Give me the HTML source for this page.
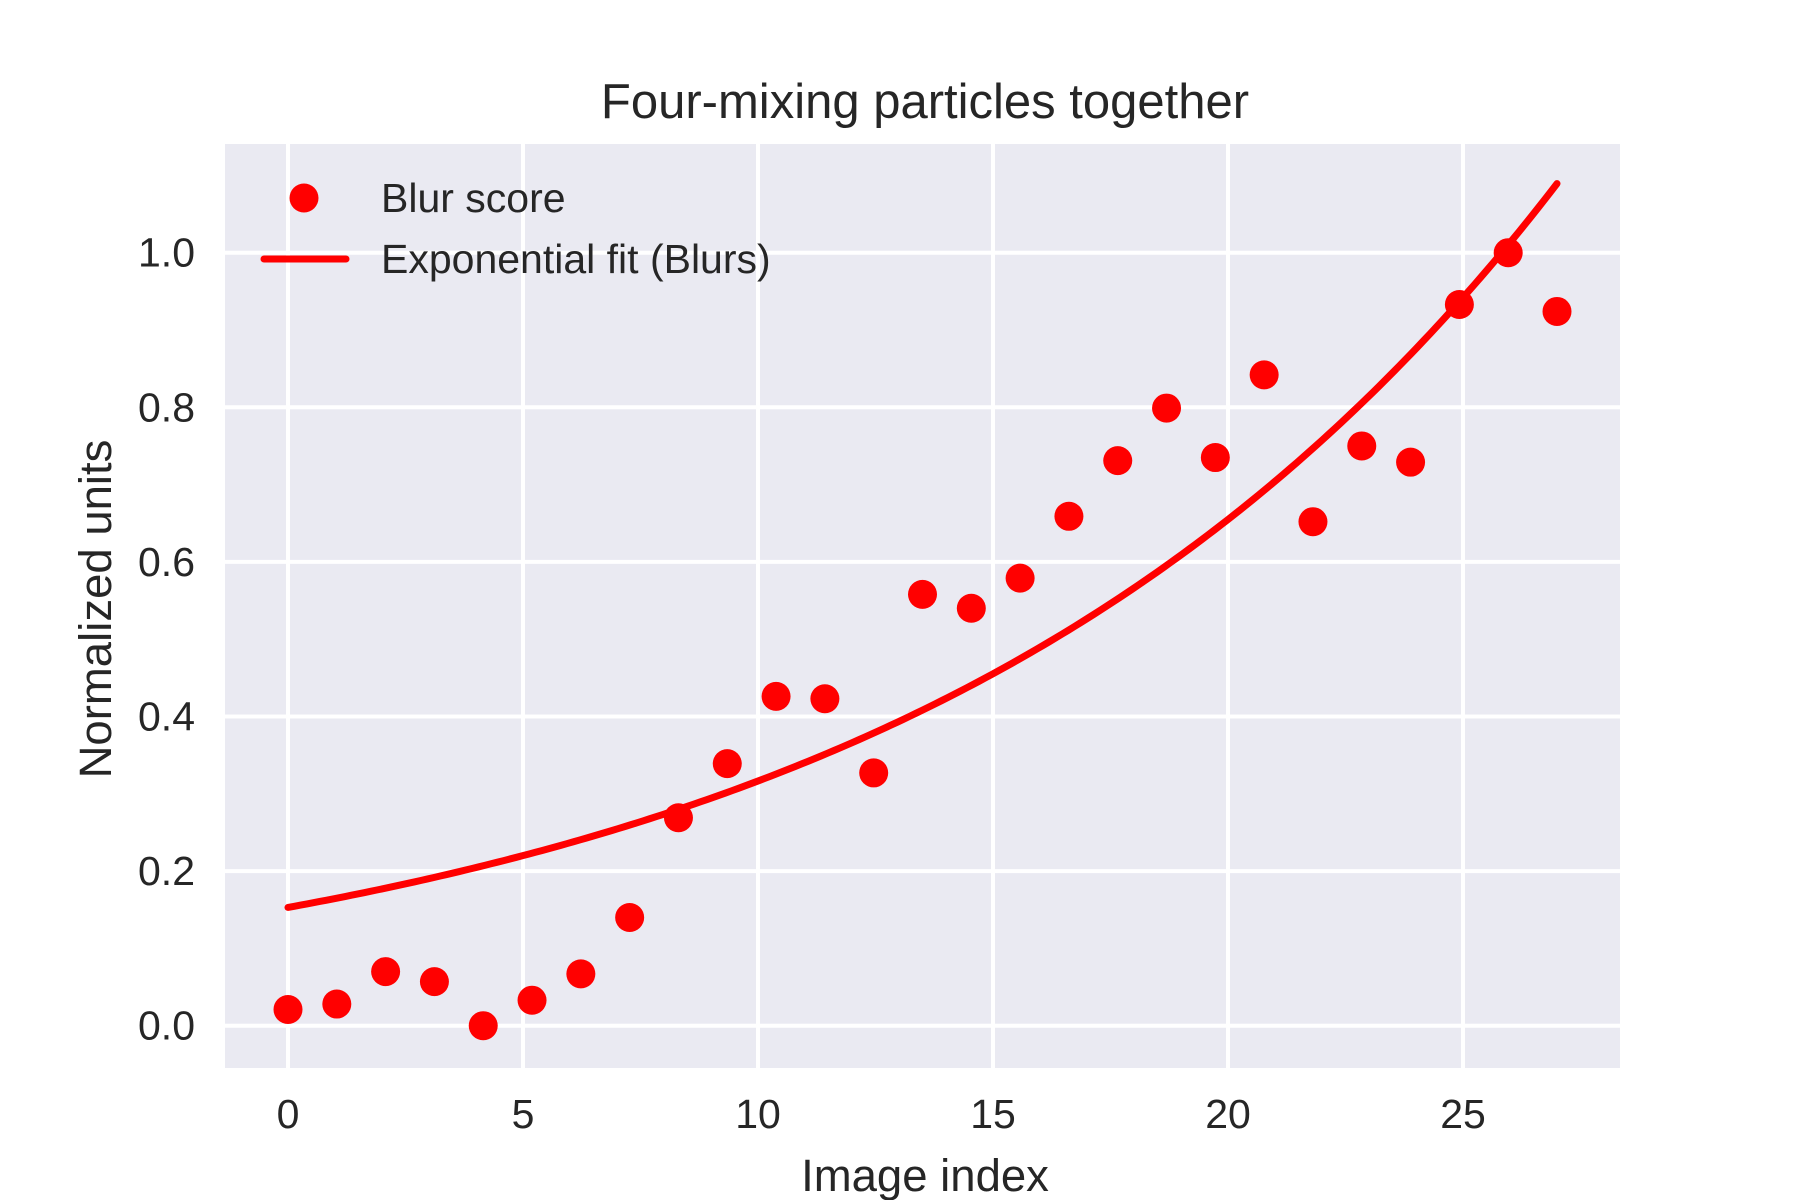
<!DOCTYPE html>
<html><head><meta charset="utf-8"><style>
body{margin:0;background:#fff}
svg{display:block;font-family:"Liberation Sans",sans-serif}
</style></head><body>
<svg id="chart" width="1800" height="1200" viewBox="0 0 1800 1200" xmlns="http://www.w3.org/2000/svg">
<rect x="225" y="144" width="1395" height="924" fill="#eaeaf2"/>
<g id="grid"></g>
<g id="ticks"></g>
<g id="series"></g>
<text x="925" y="118" font-size="49" fill="#262626" text-anchor="middle">Four-mixing particles together</text>
<text x="925" y="1191" font-size="45.5" fill="#262626" text-anchor="middle">Image index</text>
<text x="0" y="0" font-size="45.5" fill="#262626" text-anchor="middle" transform="translate(111,609) rotate(-90)">Normalized units</text>
<g>
<circle cx="304" cy="198" r="14.5" fill="#ff0000"/>
<text x="381" y="212" font-size="41" fill="#262626">Blur score</text>
<line x1="264" y1="259" x2="346" y2="259" stroke="#ff0000" stroke-width="7" stroke-linecap="round"/>
<text x="381" y="273" font-size="41" fill="#262626">Exponential fit (Blurs)</text>
</g>
</svg>
<script>
const xTicks=[0,5,10,15,20,25];
const yTicks=[0.0,0.2,0.4,0.6,0.8,1.0];
const yTickLabels=["0.0","0.2","0.4","0.6","0.8","1.0"];
const blurScores=[0.021,0.028,0.070,0.057,0.0,0.033,0.067,0.140,0.269,0.339,0.426,0.423,0.327,0.558,0.540,0.579,0.659,0.731,0.799,0.735,0.842,0.652,0.750,0.729,0.933,1.0,0.924];
const xMax=[27];
const fitA=[0.153];
const fitB=[0.0727];
const NS="http://www.w3.org/2000/svg";
const X=v=>288+v*47;
const Y=v=>1025.7-v*773;
const grid=document.getElementById('grid'),ticks=document.getElementById('ticks'),series=document.getElementById('series');
function mk(tag,attrs,parent){const e=document.createElementNS(NS,tag);for(const k in attrs)e.setAttribute(k,attrs[k]);parent.appendChild(e);return e;}
xTicks.forEach(t=>{
 const l=mk('line',{x1:X(t),x2:X(t),y1:144,y2:1068,stroke:'#fff','stroke-width':4},grid);
 
 
 const tx=mk('text',{x:X(t),y:1128,'font-size':41,fill:'#262626','text-anchor':'middle'},ticks);
 tx.textContent=t;
 
 
});
yTicks.forEach((t,i)=>{
 const l=mk('line',{x1:225,x2:1620,y1:Y(t),y2:Y(t),stroke:'#fff','stroke-width':4},grid);
 
 
 const tx=mk('text',{x:195,y:Y(t)+14,'font-size':41,fill:'#262626','text-anchor':'end'},ticks);
 tx.textContent=yTickLabels[i];
 
 
});
const n=blurScores.length;
const xs=blurScores.map((_,i)=>i*xMax[0]/(n-1));
let d='';
for(let k=0;k<=200;k++){const x=k*xMax[0]/200;const y=fitA[0]*Math.exp(fitB[0]*x);d+=(k?'L':'M')+X(x).toFixed(2)+','+Y(y).toFixed(2);}
const p=mk('path',{d:d,fill:'none',stroke:'#ff0000','stroke-width':7,'stroke-linecap':'round'},series);


blurScores.forEach((v,i)=>{
 const c=mk('circle',{cx:X(xs[i]),cy:Y(v),r:14.5,fill:'#ff0000'},series);
 
 
});
</script>
</body></html>
